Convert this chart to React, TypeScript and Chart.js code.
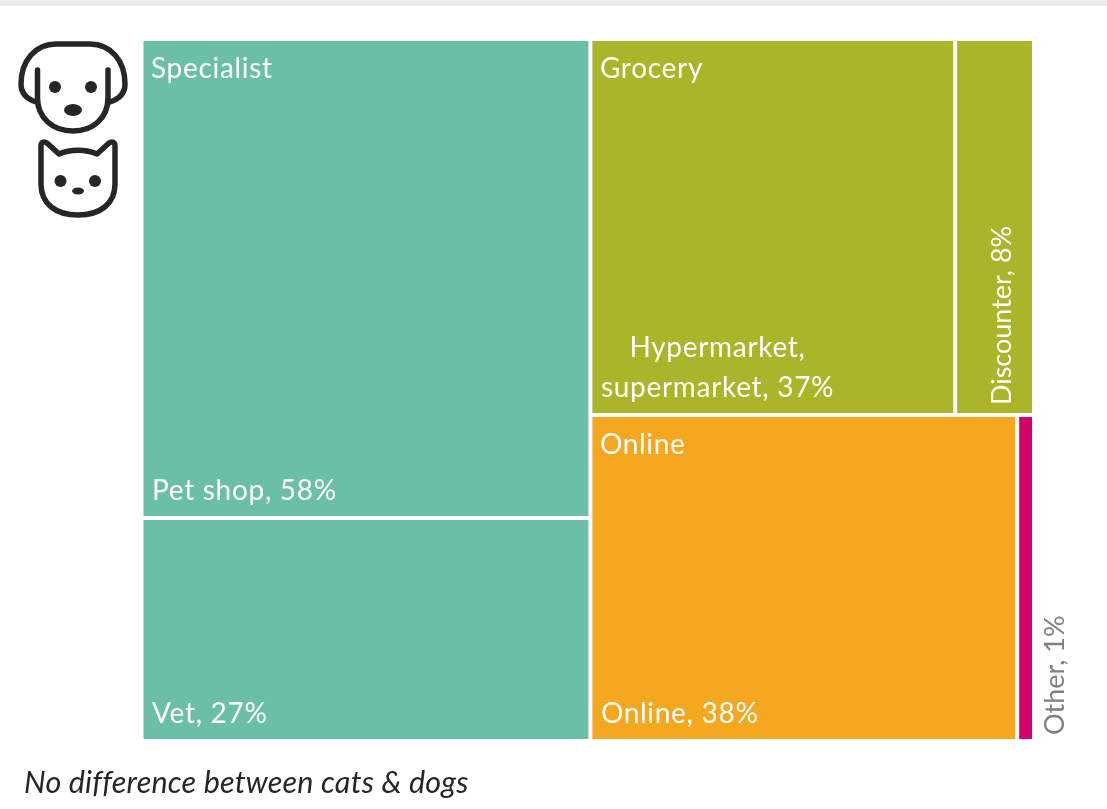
import React, { useEffect, useRef } from "react";
import { Chart, DatasetController, registerables } from "chart.js";

Chart.register(...registerables);

// Tiles of the market split, in drawing order.
const tileNames = ["Pet shop", "Vet", "Hypermarket,\nsupermarket", "Discounter", "Online", "Other"];
const tileValues = [58, 27, 37, 8, 38, 1];
const tileGroups = ["Specialist", "Specialist", "Grocery", "Grocery", "Online", "Online"];
const groupNames = ["Specialist", "Grocery", "Online"];
const groupHeadings = ["Specialist", "Grocery", "Online"];
const groupColumns = [0, 1, 1];
const tileColors = ["#6bbfa7", "#6bbfa7", "#aab52a", "#aab52a", "#f5a720", "#d5006d"];
const caption = "No difference between cats & dogs";

// Very small shares still get a readable sliver of this many percentage points.
const MIN_TILE_SHARE = 1.5;

const sum = (list: number[]) => list.reduce((a, b) => a + b, 0);

type Tile = { x: number; y: number; x2: number; y2: number };

// Slice-and-dice layout: columns by total, groups stacked within a column,
// tiles stacked in a column that holds one group and side by side otherwise.
function layoutTiles(): Tile[] {
  const groupTotal = (g: string) => sum(tileValues.filter((_, i) => tileGroups[i] === g));
  const out: Tile[] = [];
  let columnStart = 0;
  [0, 1].forEach((column) => {
    const groups = groupNames.filter((_, i) => groupColumns[i] === column);
    const columnTotal = sum(groups.map(groupTotal));
    let groupStart = 0;
    groups.forEach((g) => {
      const groupEnd = groupStart + groupTotal(g) / columnTotal;
      const members = tileValues.map((_, i) => i).filter((i) => tileGroups[i] === g);
      const weights = members.map((i) => Math.max(tileValues[i], MIN_TILE_SHARE));
      const weightTotal = sum(weights);
      let run = 0;
      members.forEach((i, k) => {
        const a = run / weightTotal;
        const b = (run + weights[k]) / weightTotal;
        run += weights[k];
        if (groups.length === 1) {
          out[i] = { x: columnStart, x2: columnStart + columnTotal, y: a, y2: b };
        } else {
          out[i] = {
            x: columnStart + a * columnTotal,
            x2: columnStart + b * columnTotal,
            y: groupStart,
            y2: groupEnd,
          };
        }
      });
      groupStart = groupEnd;
    });
    columnStart += columnTotal;
  });
  return out;
}

// Draws each tile as a bar element placed through the x and y scales.
class TileController extends DatasetController {
  static id = "tiles";
  static defaults = { datasetElementType: false, dataElementType: "bar" };
  static overrides = {
    scales: { x: { type: "linear" }, y: { type: "linear" } },
  };

  update() {
    const meta: any = this._cachedMeta;
    const dataset: any = this.getDataset();
    const { xScale, yScale } = meta;
    meta.data.forEach((el: any, i: number) => {
      const t: Tile = dataset.data[i];
      const left = xScale.getPixelForValue(t.x);
      const right = xScale.getPixelForValue(t.x2);
      Object.assign(el, {
        x: (left + right) / 2,
        width: right - left,
        y: yScale.getPixelForValue(t.y),
        base: yScale.getPixelForValue(t.y2),
        height: yScale.getPixelForValue(t.y2) - yScale.getPixelForValue(t.y),
        horizontal: false,
        borderSkipped: {},
        enableBorderRadius: false,
        inflateAmount: 0,
        options: {
          backgroundColor: dataset.backgroundColor[i],
          borderColor: "#ffffff",
          borderWidth: 2,
          borderRadius: 0,
        },
      });
    });
  }
}
Chart.register(TileController as any);

const FONT = "Lato";
const LABEL_SIZE = 28;
const UPRIGHT_LABEL_SIZE = 27;

const tileLabels = {
  id: "tileLabels",
  afterDatasetsDraw(chart: any) {
    const { ctx } = chart;
    const bars = chart.getDatasetMeta(0).data;
    const edges = (el: any) => ({
      left: el.x - el.width / 2,
      right: el.x + el.width / 2,
      top: el.y,
      bottom: el.base,
    });
    ctx.save();
    ctx.font = `${LABEL_SIZE}px ${FONT}`;
    ctx.letterSpacing = "0.7px";
    ctx.textBaseline = "alphabetic";

    // Group headings sit in the top-left corner of the group's first tile.
    ctx.fillStyle = "#ffffff";
    ctx.textAlign = "left";
    groupHeadings.forEach((heading, g) => {
      const first = tileGroups.indexOf(groupNames[g]);
      const e = edges(bars[first]);
      ctx.fillText(heading, e.left + 9.5, e.top + 39);
    });

    tileNames.forEach((name, i) => {
      const e = edges(bars[i]);
      const text = `${name}, ${tileValues[i]}%`;
      if (name === "Discounter" || name === "Other") {
        // Narrow tiles carry their label turned upright.
        const outside = name === "Other";
        ctx.save();
        ctx.font = `${UPRIGHT_LABEL_SIZE}px ${FONT}`;
        ctx.letterSpacing = "0px";
        ctx.translate(outside ? e.right + 30 : e.right - 23, e.bottom - (outside ? 6 : 10));
        ctx.rotate(-Math.PI / 2);
        ctx.fillStyle = outside ? "#7f7f7f" : "#ffffff";
        ctx.textAlign = "left";
        ctx.fillText(text, 0, 0);
        ctx.restore();
        return;
      }
      ctx.fillStyle = "#ffffff";
      const lines = text.split("\n");
      const widest = Math.max(...lines.map((l) => ctx.measureText(l).width));
      lines.forEach((line, k) => {
        const w = ctx.measureText(line).width;
        const y = e.bottom - 18.5 - (lines.length - 1 - k) * 40;
        ctx.textAlign = "left";
        ctx.fillText(line, e.left + 10.5 + (widest - w) / 2, y);
      });
    });

    ctx.fillStyle = "#262626";
    ctx.font = `italic 30.5px ${FONT}`;
    ctx.letterSpacing = "0.2px";
    ctx.textAlign = "left";
    ctx.fillText(caption, 24, 793);
    ctx.restore();
  },
};

function PetIcons() {
  const line = { fill: "none", stroke: "#262626", strokeWidth: 5.5, strokeLinecap: "round", strokeLinejoin: "round" } as const;
  return (
    <svg width={140} height={230} style={{ position: "absolute", left: 0, top: 0 }}>
      <path d="M37.5 70 V98 C37.5 118 53 131 73 131 C93 131 108 118 108 98 V70" {...line} />
      <path d="M36 102 C27 99 21 94 21 84 C21 60 36 44 56 44 H90 C110 44 125 60 125 84 C125 94 119 99 110 102" {...line} />
      <circle cx={55} cy={87} r={6} fill="#262626" />
      <circle cx={91} cy={87} r={6} fill="#262626" />
      <ellipse cx={73} cy={110} rx={9} ry={6} fill="#262626" />
      <path d="M41 146 C41 142 44 141 47 143 L59 154 C70 149 86 149 97 154 L109 143 C112 141 115 142 115 146 V184 C115 204 100 215 78 215 C56 215 41 204 41 184 Z" {...line} />
      <circle cx={60.5} cy={181} r={6} fill="#262626" />
      <circle cx={95} cy={181} r={6} fill="#262626" />
      <ellipse cx={78} cy={191} rx={6} ry={3.5} fill="#262626" />
    </svg>
  );
}

export default function App() {
  const ref = useRef<HTMLCanvasElement>(null);

  useEffect(() => {
    const chart = new Chart(ref.current as HTMLCanvasElement, {
      type: "tiles" as any,
      data: {
        labels: tileNames,
        datasets: [{ data: layoutTiles() as any, backgroundColor: tileColors }],
      },
      options: {
        responsive: false,
        animation: false,
        events: [],
        layout: { padding: { left: 141.5, top: 39, right: 73, bottom: 68 } },
        scales: {
          x: { type: "linear", display: false, min: 0, max: sum(tileValues) },
          y: { type: "linear", display: false, min: 0, max: 1, reverse: true },
        },
        plugins: { legend: { display: false }, tooltip: { enabled: false } },
      } as any,
      plugins: [tileLabels],
    });
    return () => chart.destroy();
  }, []);

  return (
    <div style={{ position: "absolute", left: 0, top: 0, width: 1107, height: 809, background: "#ffffff", overflow: "hidden" }}>
      <div style={{ position: "absolute", left: 0, top: 0, width: 1107, height: 6, background: "#ebebeb" }} />
      <canvas ref={ref} width={1107} height={809} style={{ position: "absolute", left: 0, top: 0 }} />
      <PetIcons />
    </div>
  );
}
